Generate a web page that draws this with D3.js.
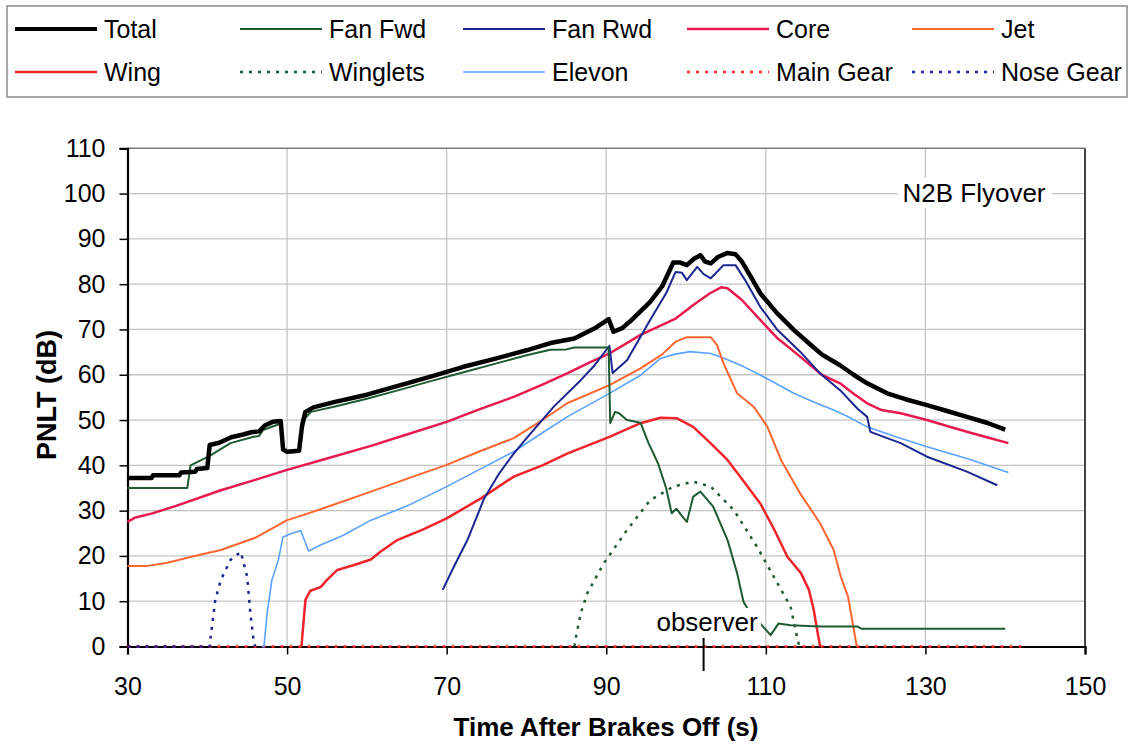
<!DOCTYPE html>
<html>
<head>
<meta charset="utf-8">
<script src="https://cdn.jsdelivr.net/npm/d3@7"></script>
<style>
  body { margin: 0; background: #fff; }
  svg text { font-family: Arial, "Liberation Sans", sans-serif; fill: #000; }
</style>
</head>
<body>
<svg id="chart" width="1130" height="749"></svg>
<script>
// Series data: [time (s), PNLT (dB)].
var totalPts = [[30,37.2],[33,37.2],[33.2,37.8],[36.5,37.8],[36.7,38.4],[38.5,38.6],[38.7,39.2],[40,39.4],[40.3,44.5],[41.5,45],[43,46.2],[44.5,46.8],[45.5,47.3],[46.5,47.5],[47.2,48.8],[48.2,49.6],[49.2,49.8],[49.5,43.5],[50,43],[51.5,43.2],[51.9,49],[52.3,51.8],[53.3,52.8],[56,54],[60,55.6],[64,57.6],[68,59.6],[72,61.7],[76,63.5],[80,65.4],[83,67],[86,68],[88.5,70.2],[90.3,72.3],[90.9,69.5],[92,70.3],[93,71.8],[95.5,76.1],[97,79.5],[98.4,84.8],[99.2,84.8],[100.1,84.2],[101,85.6],[101.8,86.4],[102.4,85],[103.1,84.6],[104,86],[105.2,86.9],[106.2,86.6],[107,85],[108,82],[109.3,78],[111.4,73.6],[113.5,69.9],[115.5,66.8],[117,64.5],[119.3,62.1],[121,60],[122.7,58.1],[125.2,55.9],[127.5,54.6],[130.2,53.3],[132.7,52],[135.2,50.7],[137.7,49.4],[140,47.9]];
var fanFwdPts = [[30,35],[37.5,35],[37.9,40],[40.2,42],[42.9,44.9],[45.8,46.3],[46.5,46.5],[47,47.8],[48.7,48.9],[49.2,49.2],[49.5,43.2],[50,42.8],[51.5,43],[51.9,48],[52.3,50.5],[53,51.8],[56,53],[60,54.7],[64,56.6],[68,58.6],[72,60.5],[76,62.4],[80,64.3],[83,65.5],[85,65.6],[86,66],[90.3,66],[90.5,49.3],[91.1,51.8],[91.6,51.5],[92.6,50],[94.3,49.4],[95.3,44.9],[96.5,40.4],[97.5,35],[98.2,29.4],[98.8,30.4],[99.4,29],[100.1,27.5],[100.9,33.1],[101.8,34.2],[103.4,30.9],[105.2,23.5],[106.4,16.2],[107.2,9.9],[108,7.5],[109.3,5.1],[110.6,2.5],[111.6,5.1],[113.1,4.7],[116.8,4.4],[121.5,4.4],[122,3.9],[140,3.9]];
var fanRwdPts = [[69.5,12.5],[70.9,17.6],[72.6,23.5],[74.7,32.7],[76.5,38],[78.4,42.6],[80.5,47],[83.4,52.9],[86.8,58.8],[88.5,62],[90.4,66.4],[90.8,60.4],[92.6,63.2],[95.5,72.1],[97.5,78],[98.7,82.7],[99.5,82.5],[100.1,80.9],[101.4,83.8],[102.2,82.2],[103.1,81.3],[104.7,84.2],[106.2,84.2],[107.4,80.9],[109.3,75],[111.4,70],[114.3,65.1],[116.8,60.3],[119.3,56.6],[121.5,52.5],[122.7,50.7],[123.1,47.4],[126.9,44.9],[130.2,41.9],[135.2,38.6],[139,35.6]];
var corePts = [[30,27.5],[31,28.5],[33.1,29.4],[36,31],[41.7,34.5],[46,36.8],[50,39],[55,41.5],[60.5,44.3],[65,46.8],[70,49.6],[74,52.3],[78.4,55.1],[82,57.8],[85.1,60.3],[88,62.8],[90.4,64.7],[94.3,68.8],[98.7,72.4],[101,75.5],[103,78],[104.4,79.3],[105.2,79.1],[107,76.5],[109.3,72.1],[111.5,68],[114.3,64],[117,60],[119.3,58.1],[121,55.8],[122.7,53.7],[124.5,52.2],[126.9,51.5],[130.2,50],[132.5,48.8],[135.2,47.4],[137.7,46.2],[140.4,44.9]];
var jetPts = [[30,17.8],[32.5,17.8],[35,18.5],[38,19.8],[41.7,21.3],[46,24],[50,27.9],[52,29],[55,30.8],[60.5,34.2],[65,37],[70,40.1],[74,43],[78.4,46],[82,50],[85.1,53.7],[90.4,57.7],[94.3,61.4],[97,64.5],[98.7,67.3],[100.1,68.3],[103.1,68.3],[103.9,66.5],[104.7,62.5],[106.4,55.9],[108.5,52.9],[110.2,48.5],[111.9,41.2],[114.3,33.8],[116.8,27.2],[118.5,21.3],[119.4,15.4],[120.3,11],[121,4],[121.4,0]];
var wingPts = [[51.8,0],[52.3,10.3],[52.9,12.3],[54.2,13.1],[55,14.7],[56.3,16.9],[58.4,18],[60.5,19.2],[61.7,20.9],[63.8,23.5],[67,25.8],[70,28.3],[74.3,32.7],[78.4,37.5],[82,40],[85.1,42.6],[90.4,46.3],[94.3,49.3],[96.8,50.5],[98.8,50.4],[100.9,48.5],[103,45],[105.2,41.2],[107,37],[109.3,31.6],[111,26],[112.7,19.8],[114.4,16.2],[115.4,12.5],[116,8.1],[116.5,3],[116.8,0]];
var wingletsPts = [[86,0],[86.3,3],[86.8,7.3],[87.6,11.7],[89.7,18.4],[92.6,25.7],[95.5,32.3],[98.4,35.3],[100.9,36.4],[103.1,35.3],[106,30.1],[108.9,22],[111,15.4],[113.1,8.8],[113.9,2.2],[114.2,0]];
var elevonPts = [[46.8,0],[47.1,0],[47.5,7.3],[48.1,14.7],[48.9,19.1],[49.5,24.2],[50.3,24.8],[51.7,25.6],[52.7,21.1],[54.2,22.4],[57,24.5],[60.5,27.9],[65,31],[70,35.3],[74,39],[78.4,43],[82,47.2],[85.1,50.7],[90.4,55.9],[94.3,59.9],[96.8,63.6],[98.5,64.5],[100.5,65.1],[103.1,64.7],[105,63.5],[107.2,61.8],[110,59.3],[113.5,55.9],[116,54],[118.5,52.2],[120,51],[122.7,48.5],[126,46.5],[130.2,44.1],[135.2,41.5],[140.4,38.4]];
var mainGearPts = [[30,0],[142,0]];
var noseGearPts = [[30,0],[40.3,0],[40.4,1.8],[41,10.3],[41.7,14.7],[42.9,19.1],[44.2,20.9],[45,15.4],[45.4,7.3],[45.8,1.4],[46,0]];

var seriesNames = ["Total", "Fan Fwd", "Fan Rwd", "Core", "Jet", "Wing", "Winglets", "Elevon", "Main Gear", "Nose Gear"];
var xTicks = [30, 50, 70, 90, 110, 130, 150];
var yTicks = [0, 10, 20, 30, 40, 50, 60, 70, 80, 90, 100, 110];
var observerTime = 102.2;

var series = [
  { name: "Total",     pts: totalPts,    color: "#000000", width: 4.5, dash: null },
  { name: "Fan Fwd",   pts: fanFwdPts,   color: "#1e5a32", width: 2,   dash: null },
  { name: "Fan Rwd",   pts: fanRwdPts,   color: "#1c2690", width: 2,   dash: null },
  { name: "Core",      pts: corePts,     color: "#e8194f", width: 2.5, dash: null },
  { name: "Jet",       pts: jetPts,      color: "#ff6530", width: 2,   dash: null },
  { name: "Wing",      pts: wingPts,     color: "#f0242a", width: 2.5, dash: null },
  { name: "Winglets",  pts: wingletsPts, color: "#1e5a32", width: 2.5, dash: "3,6" },
  { name: "Elevon",    pts: elevonPts,   color: "#5aa2ff", width: 1.6, dash: null },
  { name: "Main Gear", pts: mainGearPts, color: "#ff2a2a", width: 2.5, dash: "3,6" },
  { name: "Nose Gear", pts: noseGearPts, color: "#1c2690", width: 2.5, dash: "3,6" }
];

var svg = d3.select("#chart");
var plot = { left: 127.5, right: 1085, top: 148.3, bottom: 646.5 };

var x = d3.scaleLinear().domain([30, 150]).range([plot.left, plot.right]);
var y = d3.scaleLinear().domain([0, 110]).range([plot.bottom, plot.top]);

// Legend box.
svg.append("rect")
  .attr("x", 7).attr("y", 6).attr("width", 1120).attr("height", 91)
  .attr("fill", "#fff").attr("stroke", "#8a8a8a").attr("stroke-width", 1.5);

var legendCols = [15, 240, 463, 687, 912];
var legendRows = [29, 72];
series.forEach(function (s, i) {
  var lx = legendCols[i % 5];
  var ly = legendRows[Math.floor(i / 5)];
  svg.append("line")
    .attr("x1", lx).attr("x2", lx + 82)
    .attr("y1", ly).attr("y2", ly)
    .attr("stroke", s.color)
    .attr("stroke-width", s.name === "Total" ? 4 : s.width)
    .attr("stroke-dasharray", s.dash);
  svg.append("text")
    .attr("x", lx + 89).attr("y", ly)
    .attr("dy", "0.35em")
    .style("font-size", "25px")
    .text(seriesNames[i]);
});

// Gridlines.
var grid = svg.append("g").attr("class", "grid");
grid.selectAll(".hgrid")
  .data(yTicks.slice(1, -1))
  .enter().append("line")
  .attr("x1", plot.left).attr("x2", plot.right)
  .attr("y1", d => y(d)).attr("y2", d => y(d))
  .attr("stroke", "#c4c4c4").attr("stroke-width", 1.3);
grid.selectAll(".vgrid")
  .data(xTicks.slice(1, -1))
  .enter().append("line")
  .attr("x1", d => x(d)).attr("x2", d => x(d))
  .attr("y1", plot.top).attr("y2", plot.bottom)
  .attr("stroke", "#c4c4c4").attr("stroke-width", 1.3);

// Plot frame (top and right).
svg.append("line")
  .attr("x1", plot.left).attr("x2", plot.right)
  .attr("y1", plot.top).attr("y2", plot.top)
  .attr("stroke", "#7a7a7a").attr("stroke-width", 1.5);
svg.append("line")
  .attr("x1", plot.right).attr("x2", plot.right)
  .attr("y1", plot.top).attr("y2", plot.bottom)
  .attr("stroke", "#444").attr("stroke-width", 2);

// Title label inside the plot.
svg.append("rect")
  .attr("x", 898).attr("y", 178).attr("width", 154).attr("height", 30)
  .attr("fill", "#fff");
svg.append("text")
  .attr("x", 974).attr("y", 193)
  .attr("dy", "0.35em")
  .attr("text-anchor", "middle")
  .style("font-size", "26px")
  .text("N2B Flyover");

// Axes.
var xAxis = svg.append("g")
  .attr("transform", "translate(0," + plot.bottom + ")")
  .call(d3.axisBottom(x).tickValues(xTicks).tickSize(8).tickPadding(23).tickFormat(d3.format("d")));
var yAxis = svg.append("g")
  .attr("transform", "translate(" + plot.left + ",0)")
  .call(d3.axisLeft(y).tickValues(yTicks).tickSize(8).tickPadding(14).tickFormat(d3.format("d")));
[xAxis, yAxis].forEach(function (ax) {
  ax.select(".domain").attr("stroke", "#000").attr("stroke-width", 2.2);
  ax.selectAll(".tick line").attr("stroke", "#000").attr("stroke-width", 1.5);
  ax.selectAll(".tick text")
    .style("font-size", "25px")
    .style("font-family", "Arial, 'Liberation Sans', sans-serif")
    .attr("fill", "#000");
});

// Series lines, drawn so Total ends up on top.
var line = d3.line().x(d => x(d[0])).y(d => y(d[1]));
var drawOrder = ["Main Gear", "Nose Gear", "Winglets", "Elevon", "Wing", "Jet", "Core", "Fan Rwd", "Fan Fwd", "Total"];
drawOrder.forEach(function (name) {
  var s = series.find(d => d.name === name);
  svg.append("path")
    .datum(s.pts)
    .attr("fill", "none")
    .attr("stroke", s.color)
    .attr("stroke-width", s.width)
    .attr("stroke-linejoin", "round")
    .attr("stroke-dasharray", s.dash)
    .attr("d", line);
});

// Observer marker.
svg.append("rect")
  .attr("x", 654).attr("y", 608).attr("width", 107).attr("height", 29)
  .attr("fill", "#fff");
svg.append("text")
  .attr("x", 707).attr("y", 622)
  .attr("dy", "0.35em")
  .attr("text-anchor", "middle")
  .style("font-size", "26px")
  .text("observer");
svg.append("line")
  .attr("x1", x(observerTime)).attr("x2", x(observerTime))
  .attr("y1", 638).attr("y2", 671)
  .attr("stroke", "#000").attr("stroke-width", 2);

// Axis titles.
svg.append("text")
  .attr("transform", "translate(47,395) rotate(-90)")
  .attr("text-anchor", "middle")
  .attr("dy", "0.35em")
  .style("font-size", "27px")
  .style("font-weight", "bold")
  .text("PNLT (dB)");
svg.append("text")
  .attr("x", 606).attr("y", 727)
  .attr("text-anchor", "middle")
  .attr("dy", "0.35em")
  .style("font-size", "26px")
  .style("font-weight", "bold")
  .text("Time After Brakes Off (s)");
</script>
</body>
</html>
